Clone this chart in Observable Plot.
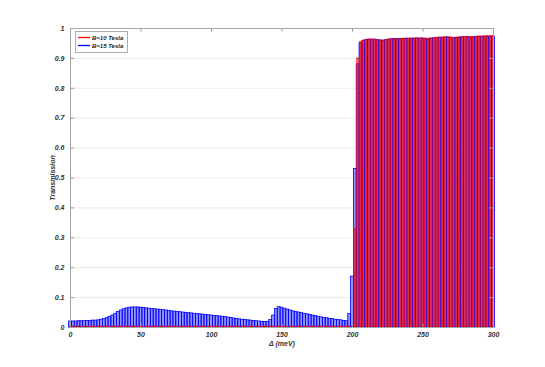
<!DOCTYPE html>
<html><head><meta charset="utf-8">
<script src="https://cdn.jsdelivr.net/npm/d3@7"></script>
<script src="https://cdn.jsdelivr.net/npm/@observablehq/plot@0.6"></script>
<style>
body{margin:0;background:#fff;}
svg{font-family:"Liberation Sans",Arial,sans-serif;}
</style>
</head><body><div id="chart"></div>
<script>
const delta = [0,2,4,6,8,10,12,14,16,18,20,22,24,26,28,30,32,34,36,38,40,42,44,46,48,50,52,54,56,58,60,62,64,66,68,70,72,74,76,78,80,82,84,86,88,90,92,94,96,98,100,102,104,106,108,110,112,114,116,118,120,122,124,126,128,130,132,134,136,138,140,142,144,146,148,150,152,154,156,158,160,162,164,166,168,170,172,174,176,178,180,182,184,186,188,190,192,194,196,198,200,202,204,206,208,210,212,214,216,218,220,222,224,226,228,230,232,234,236,238,240,242,244,246,248,250,252,254,256,258,260,262,264,266,268,270,272,274,276,278,280,282,284,286,288,290,292,294,296,298,300];
const blue15 = [0.020,0.020,0.020,0.021,0.021,0.021,0.022,0.022,0.023,0.023,0.024,0.026,0.028,0.031,0.035,0.040,0.046,0.052,0.057,0.061,0.064,0.066,0.067,0.067,0.067,0.066,0.065,0.064,0.063,0.062,0.061,0.060,0.059,0.058,0.057,0.055,0.054,0.053,0.052,0.051,0.050,0.049,0.048,0.047,0.046,0.045,0.044,0.043,0.042,0.041,0.040,0.039,0.038,0.037,0.036,0.035,0.033,0.032,0.030,0.029,0.027,0.026,0.025,0.024,0.023,0.022,0.021,0.020,0.019,0.018,0.019,0.025,0.040,0.062,0.068,0.066,0.063,0.060,0.057,0.054,0.052,0.050,0.048,0.046,0.044,0.042,0.040,0.038,0.036,0.034,0.032,0.031,0.029,0.028,0.026,0.025,0.024,0.022,0.021,0.045,0.170,0.530,0.880,0.950,0.958,0.962,0.963,0.962,0.963,0.961,0.960,0.959,0.961,0.963,0.964,0.965,0.965,0.964,0.965,0.966,0.966,0.965,0.966,0.967,0.966,0.965,0.964,0.965,0.966,0.967,0.968,0.969,0.969,0.970,0.970,0.969,0.968,0.968,0.969,0.970,0.971,0.971,0.970,0.970,0.971,0.972,0.972,0.971,0.972,0.973,0.973];
const red10 = [0.003,0.003,0.003,0.003,0.003,0.003,0.003,0.003,0.003,0.003,0.003,0.003,0.003,0.003,0.003,0.003,0.003,0.003,0.003,0.003,0.003,0.003,0.003,0.003,0.003,0.003,0.003,0.003,0.003,0.003,0.003,0.003,0.003,0.003,0.003,0.003,0.003,0.003,0.003,0.003,0.003,0.003,0.003,0.003,0.003,0.003,0.003,0.003,0.003,0.003,0.003,0.003,0.003,0.003,0.003,0.003,0.003,0.003,0.003,0.003,0.003,0.003,0.003,0.003,0.003,0.003,0.003,0.003,0.003,0.003,0.003,0.003,0.003,0.003,0.003,0.003,0.003,0.003,0.003,0.003,0.003,0.003,0.003,0.003,0.003,0.003,0.003,0.003,0.003,0.003,0.003,0.003,0.003,0.003,0.003,0.003,0.003,0.003,0.003,0.003,0.003,0.330,0.900,0.955,0.960,0.962,0.963,0.964,0.962,0.961,0.960,0.960,0.962,0.963,0.964,0.964,0.965,0.966,0.966,0.965,0.966,0.967,0.967,0.966,0.967,0.968,0.967,0.966,0.967,0.968,0.969,0.970,0.970,0.971,0.971,0.970,0.969,0.970,0.971,0.972,0.972,0.973,0.972,0.972,0.973,0.974,0.974,0.975,0.975,0.975,0.976];
const xTicks = [0,50,100,150,200,250,300];
const yTicks = [0,0.1,0.2,0.3,0.4,0.5,0.6,0.7,0.8,0.9,1];
const seriesNames = ["B=10 Tesla","B=15 Tesla"];
const seriesColors = ["#ff0000","#0000ff"];

const blueData = delta.map((d,i)=>({d, v: blue15[i]}));
const redData = delta.map((d,i)=>({d, v: red10[i]}));
const halfW = 1;

const chart = Plot.plot({
  width: 545, height: 367,
  marginLeft: 70, marginRight: 52, marginTop: 28, marginBottom: 40,
  style: {fontSize: "7px", color:"#333", fontStyle:"italic", fontWeight:"bold", background:"#fff"},
  x: {domain:[0,300]},
  y: {domain:[0,1]},
  marks: [
    Plot.gridY(yTicks, {stroke:"#ebebeb", strokeOpacity:1}),
    Plot.rectY(blueData, {x1: d=>d.d-halfW, x2: d=>d.d+halfW, y: "v", fill: seriesColors[1], fillOpacity: 0.42, stroke: seriesColors[1], strokeWidth: 0.8, strokeOpacity: 1, inset: 0}),
    Plot.rectY(redData, {x1: d=>d.d-halfW, x2: d=>d.d+halfW, y: "v", fill: seriesColors[0], fillOpacity: 0.55, stroke: seriesColors[0], strokeWidth: 0.7, strokeOpacity: 0.9, insetLeft: 0.5, insetRight: 0.9}),
    Plot.ruleX(xTicks, {y1: 0, y2: 0.012, stroke:"#999"}),
    Plot.ruleX(xTicks, {y1: 0.988, y2: 1, stroke:"#999"}),
    Plot.ruleY(yTicks, {x1: 0, x2: 2.8, stroke:"#999"}),
    Plot.ruleY(yTicks, {x1: 297.2, x2: 300, stroke:"#999"}),
    Plot.frame({stroke:"#a6a6a6"}),
    Plot.axisX(xTicks, {tickSize: 0, tickPadding: 5, label: "Δ (meV)", labelAnchor:"center", labelArrow:"none", labelOffset: 18, fill:"#333"}),
    Plot.axisY(yTicks, {tickSize: 0, tickPadding: 6, tickFormat: d => String(+d.toFixed(1)), label: "Transmission", labelAnchor:"center", labelArrow:"none", labelOffset: 20, fill:"#333"})
  ]
});
document.getElementById("chart").appendChild(chart);

// legend
const svg = d3.select(chart);
const lg = svg.append("g");
lg.append("rect").attr("x",75.5).attr("y",31.5).attr("width",52).attr("height",21).attr("fill","#fff").attr("stroke","#999").attr("stroke-width",0.8);
seriesNames.forEach((name,i)=>{
  const y = 37.5 + i*8;
  lg.append("line").attr("x1",78).attr("x2",90).attr("y1",y).attr("y2",y).attr("stroke",seriesColors[i]).attr("stroke-width",1.3);
  lg.append("text").attr("x",92).attr("y",y).attr("dy","0.35em").attr("text-anchor","start").attr("font-size","6px").attr("font-style","italic").attr("font-weight","bold").attr("fill","#222").text(name);
});
</script>
</body></html>
